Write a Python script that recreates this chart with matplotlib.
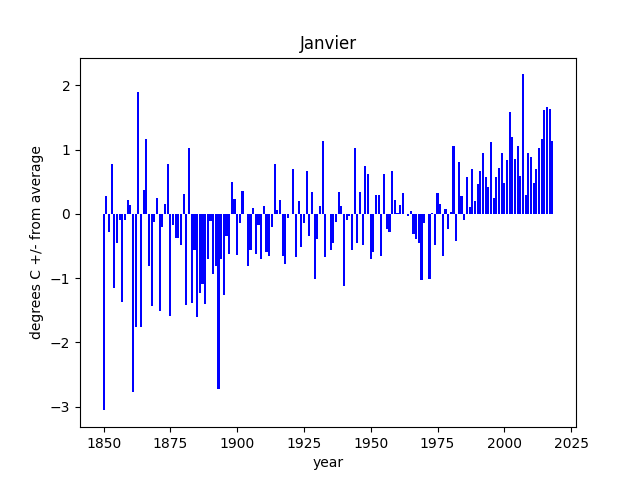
import numpy as np
import matplotlib
matplotlib.use("Agg")
import matplotlib.pyplot as plt

# années 1850 -> 2018
years = list(range(1850, 2019))

# anomalies de janvier (degrés C)
anom_1850s = [-3.06, 0.28, -0.28, 0.78, -1.15, -0.45, -0.10, -1.37, -0.09, 0.22]
anom_1860s = [0.14, -2.77, -1.76, 1.89, -1.76, 0.37, 1.16, -0.81, -1.44, -0.12]
anom_1870s = [0.25, -1.51, -0.21, 0.16, 0.78, -1.59, -0.17, -0.37, -0.37, -0.49]
anom_1880s = [0.31, -1.42, 1.02, -1.39, -0.56, -1.60, -1.24, -1.10, -1.40, -0.71]
anom_1890s = [-0.11, -0.93, -0.81, -2.73, -0.70, -1.26, -0.35, -0.62, 0.50, 0.23]
anom_1900s = [-0.64, -0.14, 0.36, 0.0, -0.81, -0.56, 0.09, -0.62, -0.17, -0.70]
anom_1910s = [0.125, -0.60, -0.65, -0.20, 0.78, 0.06, 0.22, -0.65, -0.78, -0.07]
anom_1920s = [0.0, 0.70, -0.67, 0.20, -0.51, -0.15, 0.67, -0.35, 0.34, -1.01]
anom_1930s = [-0.385, 0.125, 1.14, -0.67, -0.01, -0.56, -0.45, -0.12, 0.34, 0.125]
anom_1940s = [-1.12, -0.10, -0.03, -0.56, 1.02, -0.46, 0.34, -0.48, 0.75, 0.625]
anom_1950s = [-0.70, -0.59, 0.30, 0.30, -0.65, 0.625, -0.23, -0.29, 0.66, 0.22]
anom_1960s = [0.02, 0.14, 0.33, 0.0, -0.04, 0.05, -0.31, -0.385, -0.46, -1.03]
anom_1970s = [-0.14, -0.01, -1.01, 0.02, -0.48, 0.33, 0.16, -0.65, 0.08, -0.23]
anom_1980s = [0.03, 1.06, -0.42, 0.81, 0.28, -0.10, 0.58, 0.11, 0.70, 0.20]
anom_1990s = [0.47, 0.67, 0.95, 0.58, 0.41, 1.11, 0.25, 0.58, 0.72, 0.95]
anom_2000s = [0.48, 0.83, 1.58, 1.20, 0.86, 1.06, 0.59, 2.17, 0.30, 0.95]
anom_2010s = [0.89, 0.48, 0.69, 1.02, 1.16, 1.61, 1.67, 1.63, 1.14]

anomalies = (anom_1850s + anom_1860s + anom_1870s + anom_1880s + anom_1890s
             + anom_1900s + anom_1910s + anom_1920s + anom_1930s + anom_1940s
             + anom_1950s + anom_1960s + anom_1970s + anom_1980s + anom_1990s
             + anom_2000s + anom_2010s)

fig, ax = plt.subplots(figsize=(6.4, 4.8), dpi=100)
ax.bar(years, anomalies, color="blue")
ax.set_title("Janvier")
ax.set_xlabel("year")
ax.set_ylabel("degrees C +/- from average")

fig.savefig("out.png")
